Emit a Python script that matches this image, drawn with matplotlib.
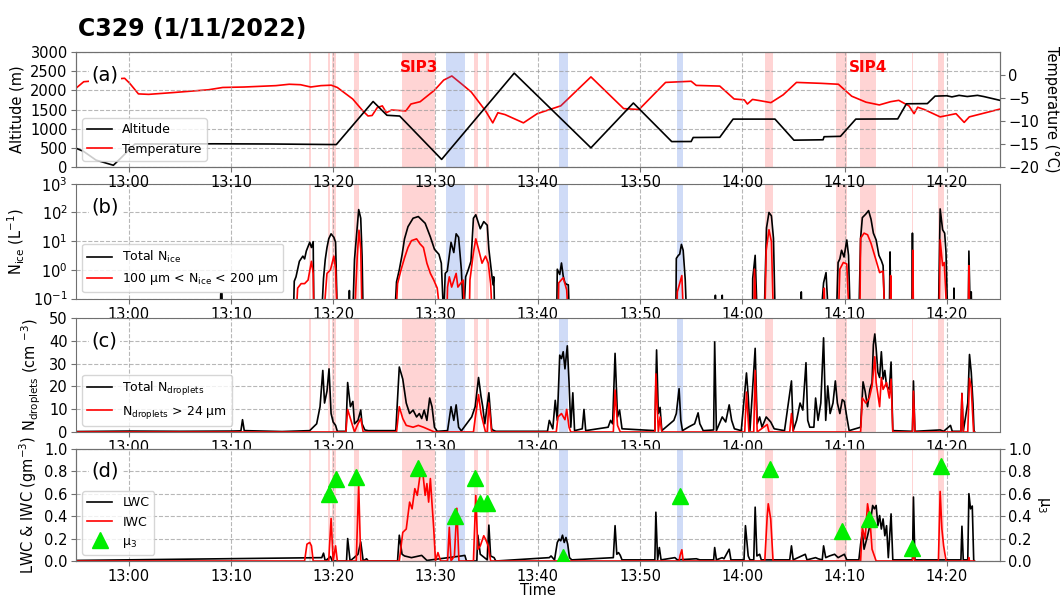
import numpy as np
import matplotlib
matplotlib.use("Agg")
import matplotlib.pyplot as plt
from matplotlib.ticker import NullLocator

# time axis: minutes after 13:00
X_LIM = (-5.15, 85.2)
TICK_MIN = [0, 10, 20, 30, 40, 50, 60, 70, 80]
TICK_LAB = ["13:00", "13:10", "13:20", "13:30", "13:40", "13:50", "14:00", "14:10", "14:20"]

# shaded periods (start, end) in minutes
PINK_SPANS = [(17.6, 17.85), (19.5, 19.65), (19.9, 20.3), (22.05, 22.5), (26.7, 30.0),
              (33.8, 34.2), (34.9, 35.2), (62.2, 63.0), (69.2, 70.2), (71.5, 73.1),
              (76.6, 76.7), (79.15, 79.7)]
BLUE_SPANS = [(31.0, 32.9), (42.1, 43.0), (53.6, 54.2)]
SIP_LABELS = ["SIP3", "SIP4"]
SIP_POS = [28.35, 72.3]

# (a) altitude / temperature
ALT_T = [-5.2, -4.4, -3.2, -1.5, -0.8, 0.6, 8.4, 14.0, 20.3, 23.9, 25.25, 26.5, 30.6, 37.7,
         45.2, 49.35, 53.1, 55.0, 55.2, 57.8, 59.1, 63.2, 65.05, 67.9, 68.0, 69.6, 71.1,
         75.2, 76.05, 78.1, 78.85, 80.0, 80.5, 81.2, 82.0, 83.0, 83.6, 85.2]
ALT_V = [495, 405, 180, 45, 225, 600, 605, 600, 585, 1710, 1350, 1330, 198, 2450,
         500, 1670, 663, 665, 770, 775, 1250, 1250, 700, 710, 790, 800, 1250,
         1255, 1650, 1655, 1850, 1860, 1830, 1870, 1840, 1870, 1840, 1740]
TEMP_T = [-5.2, -4.4, -0.4, 0.1, 0.95, 1.95, 4.4, 7.8, 9.2, 11.3, 14.4, 15.7, 16.8, 17.8,
          18.8, 19.8, 20.4, 21.0, 21.9, 22.9, 23.4, 23.8, 24.3, 24.8, 25.2, 25.7, 27.1,
          27.6, 28.5, 29.9, 30.8, 31.6, 32.7, 33.5, 34.9, 35.6, 36.1, 36.8, 38.6, 39.95,
          42.25, 45.2, 48.4, 49.9, 52.5, 55.0, 55.5, 57.8, 59.2, 60.2, 60.5, 61.0, 61.8,
          62.8, 64.0, 65.3, 67.7, 69.4, 70.7, 72.1, 73.4, 74.5, 75.3, 76.3, 76.8, 77.15,
          77.8, 79.35, 80.9, 81.7, 82.2, 85.2]
TEMP_V = [-2.95, -1.45, -0.7, -1.8, -4.1, -4.2, -3.8, -3.2, -2.7, -2.6, -2.3, -2.0, -2.1, -2.6,
          -2.3, -2.2, -2.7, -3.7, -5.2, -7.8, -8.9, -8.8, -7.1, -6.7, -8.2, -7.6, -7.8,
          -6.3, -5.8, -3.3, -1.1, -0.2, -2.2, -3.7, -7.8, -10.4, -8.2, -8.6, -10.4, -8.4,
          -6.7, -0.4, -7.3, -7.5, -1.6, -1.35, -2.25, -2.4, -5.2, -5.4, -6.3, -5.3, -5.6,
          -6.0, -4.3, -1.6, -1.8, -2.0, -4.6, -5.9, -6.5, -5.8, -5.5, -6.7, -8.4, -7.0,
          -7.5, -9.1, -8.4, -10.3, -9.1, -7.4]

# (b) ice number concentration (L-1); 0.02 = below axis
NICE_T = [-5.2, 8.95, 9.0, 9.12, 9.17,
          16.1, 16.19, 16.36, 16.69, 17.03, 17.2, 17.37, 17.7, 17.87, 18.04, 18.11,
          18.85, 19.05, 19.22, 19.39, 19.56, 19.79, 20.06, 20.23, 20.4,
          21.5, 21.58, 21.66,
          21.9, 22.08, 22.25, 22.49, 22.69, 22.82, 22.93,
          26.0, 26.19, 26.46, 26.73, 26.97, 27.31, 27.81, 28.32, 28.65, 28.99, 29.5, 29.9,
          30.34, 30.57, 30.8, 30.95, 31.15, 31.52, 31.79, 32.02, 32.26, 32.53, 32.75,
          32.95, 33.2, 33.47, 33.71, 33.94, 34.38, 34.72, 35.06, 35.22, 35.49, 35.63, 35.7, 35.8,
          41.85, 41.91, 42.15, 42.32, 42.49, 42.66, 42.83, 42.99, 43.1,
          53.5, 53.55, 53.75, 53.88, 54.05, 54.22, 54.42, 54.56,
          57.3, 57.37, 57.45, 58.0, 58.04, 58.1,
          61.0, 61.02, 61.26, 61.46, 62.14, 62.37, 62.61, 62.85, 63.05, 63.22,
          65.7, 65.77, 65.85, 67.68, 67.95, 68.19, 68.43,
          69.2, 69.37, 69.54, 69.71, 69.95, 70.22, 70.39, 70.56,
          71.4, 71.57, 71.74, 72.08, 72.35, 72.59, 72.82, 73.09, 73.36, 73.6, 73.77, 73.94,
          74.38, 74.45, 74.52, 76.58, 76.64, 76.7,
          79.18, 79.35, 79.59, 79.79, 79.92, 80.09, 80.65, 80.7, 80.75,
          82.1, 82.16, 82.3, 82.39, 82.45, 82.7]
NICE_V = [0.02, 0.02, 0.15, 0.15, 0.02,
          0.02, 0.4, 0.57, 1.98, 3.0, 2.4, 4.55, 9.1, 6.0, 9.6, 0.02,
          0.02, 0.5, 2.3, 6.0, 12, 18, 13.7, 9.1, 0.02,
          0.02, 0.19, 0.02,
          0.02, 2.3, 12, 126, 63, 3.0, 0.02,
          0.02, 0.38, 1.0, 3.3, 12, 32, 63, 72, 55, 42, 14, 5.2,
          3.45, 1.7, 0.02, 0.75, 0.9, 9.0, 4.0, 18, 13.7, 1.0, 0.02,
          0.57, 1.0, 1.98, 63, 83, 27, 48, 36, 5.2, 0.75, 0.3, 0.57, 0.02,
          0.02, 1.05, 0.69, 1.73, 0.6, 0.35, 0.31, 0.3, 0.02,
          0.02, 2.5, 3.2, 3.5, 7.7, 4.8, 0.46, 0.02,
          0.02, 0.13, 0.02, 0.02, 0.13, 0.02,
          0.02, 0.5, 3.2, 0.02, 0.02, 29, 100, 76, 12.6, 0.02,
          0.02, 0.17, 0.02, 0.02, 0.35, 0.8, 0.02,
          0.02, 1.8, 2.4, 4.8, 2.8, 11, 3.2, 0.02,
          0.02, 12.6, 66, 88, 116, 58, 19, 11, 3.2, 2.1, 1.4, 0.02,
          0.02, 4.2, 0.02, 0.02, 19, 0.02,
          0.02, 133, 25, 19, 4.2, 0.02, 0.02, 0.23, 0.02,
          0.02, 4.5, 0.02, 0.17, 0.02, 0.02]
NICE2_T = [-5.2, 16.36, 16.52, 16.86, 17.2, 17.54, 17.87, 18.04, 18.11,
           19.05, 19.39, 19.73, 20.06, 20.23, 20.4,
           22.08, 22.35, 22.52, 22.69, 22.82,
           26.12, 26.29, 26.63, 26.97, 27.31, 27.65, 28.15, 28.49, 28.82, 29.16, 29.5, 29.83,
           30.17, 30.5, 31.1, 31.18, 31.35, 31.58, 32.02, 32.19, 32.7, 32.87,
           33.3, 33.37, 33.71, 33.94, 34.21, 34.55, 34.89, 35.16, 35.39, 35.56,
           42.0, 42.05, 42.49, 42.83, 42.99,
           53.6, 53.65, 54.09, 54.26,
           61.15, 61.19, 61.39, 62.2, 62.34, 62.61, 62.85, 63.05,
           67.95, 68.02, 68.1, 69.4, 69.54, 69.88, 70.22, 70.45,
           71.5, 71.57, 71.91, 72.25, 72.59, 73.09, 73.43, 73.77, 73.94,
           74.45, 74.51, 74.57, 76.62, 76.68, 76.74,
           79.25, 79.35, 79.59, 79.75, 80.02, 82.1, 82.16, 82.22, 82.7]
NICE2_V = [0.02, 0.02, 0.23, 0.33, 0.33, 0.44, 1.98, 0.75, 0.02,
           0.02, 0.75, 1.0, 3.0, 1.1, 0.02,
           0.02, 3.0, 24, 5.2, 0.02,
           0.02, 0.33, 1.0, 2.6, 6.0, 10.4, 12, 8.0, 6.0, 1.7, 0.75, 0.44,
           0.23, 0.02, 0.02, 0.25, 0.57, 0.25, 0.75, 0.25, 0.44, 0.02,
           0.02, 0.44, 4.0, 12, 5.2, 1.7, 3.0, 1.7, 0.33, 0.02,
           0.02, 0.35, 0.53, 0.2, 0.02,
           0.02, 0.17, 0.63, 0.02,
           0.02, 1.05, 0.02, 0.02, 4.8, 25, 9.6, 0.02,
           0.02, 0.23, 0.02, 0.02, 1.05, 1.8, 1.6, 0.02,
           0.02, 12.6, 19, 16.7, 8.4, 2.1, 0.8, 0.9, 0.02,
           0.02, 0.63, 0.02, 0.02, 4.8, 0.02,
           0.02, 11, 1.4, 1.8, 0.02, 0.02, 1.4, 0.02, 0.02]

# (c) droplet number concentration (cm-3)
NDROP_T = [-5.2, 0.0, 5.0, 10.0, 10.97, 11.13, 11.3, 15.0, 17.7, 18.38, 18.71, 18.98, 19.15,
           19.39, 19.59, 19.79, 19.99, 20.23, 20.4, 21.24, 21.41, 21.68, 21.92, 22.08, 22.42,
           22.69, 22.82, 23.09, 23.43, 26.12, 26.46, 26.8, 27.14, 27.47, 27.81, 28.15, 28.42,
           28.65, 28.89, 29.16, 29.43, 29.66, 29.9, 30.17, 31.18, 31.52, 31.79, 32.02, 32.26,
           32.53, 33.54, 33.88, 34.21, 34.45, 34.62, 34.82, 35.22, 35.49, 35.63, 35.9, 40.95,
           41.13, 41.47, 41.71, 41.91, 42.15, 42.32, 42.49, 42.66, 42.89, 43.06, 43.23, 43.43,
           43.6, 44.35, 44.52, 44.69, 46.88, 47.12, 47.32, 47.56, 47.8, 48.0, 48.24,
           51.45, 51.62, 51.79, 51.96, 52.13, 53.31, 53.55, 53.82, 53.99, 54.15, 54.83, 55.34,
           55.68, 55.85, 56.18, 57.2, 57.3, 57.47, 58.04, 58.38, 58.72, 58.96, 59.23, 59.9,
           60.41, 60.58, 60.75, 61.26, 61.46, 61.7, 61.93, 62.34, 62.78, 63.12, 64.13, 64.81,
           64.98, 65.31, 65.65, 65.92, 66.23, 66.4, 66.6, 67.0, 67.17, 67.41, 67.68, 67.95,
           68.16, 68.36, 68.59, 68.87, 69.1, 69.3, 69.54, 69.78, 69.98, 70.22, 70.45, 71.57,
           71.81, 72.01, 72.25, 72.48, 72.69, 72.82, 72.96, 73.09, 73.26, 73.43, 73.6, 73.77,
           73.94, 74.11, 74.38, 74.55, 74.72, 76.64, 76.74, 76.88, 79.35, 79.69, 80.36, 80.53,
           81.38, 81.48, 81.61, 82.05, 82.22, 82.39, 82.56, 82.66, 82.7]
NDROP_V = [0.2, 0.4, 0.3, 0.4, 0.5, 5.4, 0.6, 0.2, 0.6, 3.6, 11.1, 27.0, 12.7,
           17.9, 27.7, 8.1, 4.4, 2.9, 0.3, 0.3, 21.7, 11.1, 13.4, 3.6, 5.1,
           9.6, 3.6, 0.9, 0.6, 0.6, 28.5, 23.2, 12.7, 8.1, 9.6, 6.6, 8.1,
           5.9, 9.6, 5.1, 14.9, 11.1, 2.1, 0.3, 0.6, 11.1, 5.1, 11.9, 2.1,
           0.5, 6.6, 11.1, 23.9, 15.7, 11.1, 3.6, 17.2, 1.4, 0.8, 0.3, 0.3,
           5.1, 1.4, 13.9, 5.1, 33.7, 32.2, 35.2, 27.7, 37.8, 21.7, 2.1, 17.2,
           0.6, 1.4, 9.9, 0.6, 2.1, 5.1, 3.6, 34.5, 6.6, 9.6, 1.4,
           0.6, 36.0, 8.1, 10.8, 0.6, 5.1, 8.1, 19.0, 5.1, 0.6, 2.4, 3.6,
           8.4, 3.6, 0.6, 0.9, 39.5, 0.6, 6.6, 4.4, 11.9, 5.1, 1.4, 0.6,
           25.9, 15.7, 0.6, 36.7, 3.6, 6.6, 2.1, 6.6, 4.4, 1.4, 0.6, 22.4,
           0.6, 5.1, 12.7, 9.6, 30.4, 5.1, 2.1, 2.1, 14.9, 5.1, 12.7, 41.3,
           5.1, 20.2, 8.1, 12.7, 22.4, 12.7, 8.1, 14.2, 13.4, 6.6, 0.6, 2.1,
           22.0, 17.9, 11.1, 18.7, 21.7, 38.3, 43.0, 36.7, 26.2, 23.9, 35.2, 23.2,
           27.0, 20.2, 18.7, 30.7, 0.6, 0.3, 22.4, 0.3, 0.9, 0.3, 2.9, 0.3,
           0.3, 16.9, 0.3, 12.7, 34.0, 26.2, 12.7, 0.3, 0.2]
NDROP24_T = [-5.2, 21.24, 21.41, 21.68, 22.08, 22.42, 22.69, 22.93,
             26.19, 26.46, 26.8, 27.14, 27.81, 28.32, 28.82, 29.9,
             33.71, 33.88, 34.21, 34.45, 34.89, 35.06, 35.22, 35.49,
             41.81, 41.98, 42.32, 42.66, 42.83, 43.06, 43.23,
             47.39, 47.56, 47.8, 48.07, 51.45, 51.55, 51.79, 51.96, 52.13,
             60.24, 60.41, 60.65, 61.12, 61.26, 61.46, 62.44, 62.61,
             64.64, 64.81, 64.98,
             71.57, 71.74, 72.08, 72.42, 72.69, 72.96, 73.09, 73.43, 73.6, 73.77, 74.11,
             74.38, 74.55, 74.72, 76.64, 76.74, 76.88,
             81.38, 81.48, 81.61, 82.05, 82.22, 82.39, 82.62, 82.7]
NDROP24_V = [0, 0, 9.9, 5.9, 0, 3.6, 5.9, 0,
             0, 11.1, 5.9, 2.9, 2.1, 2.9, 2.1, 0,
             0, 5.9, 16.4, 8.1, 0, 0, 12.7, 0,
             0, 6.6, 8.1, 5.4, 9.9, 2.1, 0,
             0, 18.4, 2.9, 0, 0, 25.5, 0, 6.6, 0,
             0, 17.5, 0, 0, 27.0, 0, 3.3, 0,
             0, 8.1, 0,
             0, 14.9, 12.7, 14.9, 20.2, 33.0, 21.7, 11.1, 23.9, 18.7, 21.7,
             14.9, 23.2, 0, 0, 17.9, 0,
             0, 16.9, 0, 0, 23.5, 19.4, 0, 0]

# (d) LWC, IWC (g m-3) and mu3
LWC_T = [-5.2, 18.88, 19.05, 19.22, 19.73, 19.9, 21.3, 21.41, 21.65, 22.42, 22.69, 22.93,
         23.26, 23.43, 26.29, 26.46, 26.73, 26.97, 27.65, 28.65, 29.16, 32.53, 32.87, 33.03,
         34.04, 34.14, 34.38, 35.06, 35.22, 35.39, 35.73, 35.9,
         41.13, 41.3, 41.64, 41.91, 42.08, 42.25, 42.42, 42.59, 42.76, 42.93, 43.1, 43.33,
         47.39, 47.56, 47.73, 47.9, 48.07, 48.24, 51.45, 51.55, 51.72, 51.89, 52.06,
         53.41, 53.65, 55.51, 55.85, 57.2, 57.3, 57.47, 58.04, 58.21, 58.72, 58.89,
         60.17, 60.31, 60.58, 60.75, 61.12, 61.26, 61.43, 61.7, 61.86,
         64.64, 64.81, 64.98, 66.16, 66.33, 67.17, 67.41, 67.82, 67.95, 68.16, 68.53, 69.03,
         69.37, 69.98, 70.22, 71.4, 71.57, 71.74, 71.91, 72.25, 72.48, 72.75, 72.92, 73.09,
         73.26, 73.43, 73.6, 73.77, 73.94, 74.11, 74.28, 74.55, 74.72,
         76.64, 76.74, 76.88, 81.38, 81.48, 81.61, 82.05, 82.16, 82.32, 82.49, 82.63, 82.7]
LWC_V = [0.005, 0.03, 0.07, 0.0, 0.04, 0.0, 0.0, 0.2, 0.0, 0.06, 0.17, 0.0,
         0.02, 0.0, 0.0, 0.23, 0.06, 0.045, 0.03, 0.05, 0.005, 0.045, 0.05, 0.0,
         0.0, 0.23, 0.06, 0.01, 0.32, 0.045, 0.03, 0.0,
         0.03, 0.045, 0.01, 0.165, 0.195, 0.18, 0.23, 0.165, 0.21, 0.15, 0.03, 0.01,
         0.03, 0.315, 0.06, 0.075, 0.05, 0.01, 0.01, 0.435, 0.01, 0.12, 0.01,
         0.03, 0.01, 0.02, 0.01, 0.01, 0.12, 0.01, 0.03, 0.02, 0.105, 0.01,
         0.01, 0.315, 0.045, 0.01, 0.01, 0.48, 0.045, 0.06, 0.01,
         0.01, 0.135, 0.01, 0.06, 0.01, 0.03, 0.02, 0.01, 0.135, 0.03, 0.045, 0.06,
         0.03, 0.06, 0.01, 0.01, 0.15, 0.255, 0.105, 0.225, 0.315, 0.495, 0.465, 0.495,
         0.315, 0.405, 0.285, 0.375, 0.225, 0.315, 0.03, 0.42, 0.01,
         0.01, 0.57, 0.01, 0.01, 0.31, 0.01, 0.01, 0.6, 0.465, 0.49, 0.01, 0.0]
IWC_T = [-5.2, 17.2, 17.43, 17.7, 17.87, 18.04, 19.56, 19.79, 19.99, 20.23, 20.4,
         22.25, 22.49, 22.69, 26.46, 26.8, 27.14, 27.47, 27.71, 27.98, 28.22, 28.49, 28.75,
         28.99, 29.16, 29.33, 29.5, 29.66, 29.83, 30.0, 30.24, 30.5,
         31.18, 31.35, 31.52, 31.85, 32.09, 32.29,
         33.71, 33.94, 34.14, 34.38, 34.72, 34.89, 35.16, 35.39,
         53.82, 53.92, 54.09, 54.22, 62.2, 62.44, 62.54, 62.78, 63.01,
         71.57, 71.74, 72.01, 72.25, 72.48, 72.69, 73.09,
         76.64, 76.74, 76.88, 79.18, 79.35, 79.52, 79.69, 79.93,
         82.1, 82.16, 82.22, 82.7]
IWC_V = [0.0, 0.0, 0.15, 0.165, 0.135, 0.0, 0.0, 0.38, 0.0, 0.135, 0.0,
         0.0, 0.68, 0.0, 0.0, 0.255, 0.285, 0.525, 0.465, 0.645, 0.585, 0.765, 0.795,
         0.585, 0.69, 0.525, 0.735, 0.51, 0.285, 0.0, 0.075, 0.0,
         0.0, 0.3, 0.0, 0.045, 0.47, 0.0,
         0.0, 0.585, 0.105, 0.135, 0.225, 0.195, 0.135, 0.0,
         0.0, 0.05, 0.1, 0.0, 0.0, 0.405, 0.51, 0.375, 0.0,
         0.0, 0.3, 0.195, 0.51, 0.375, 0.105, 0.0,
         0.0, 0.075, 0.0, 0.0, 0.62, 0.285, 0.135, 0.0,
         0.0, 0.03, 0.0, 0.0]
MU3_T = [19.56, 20.24, 22.26, 28.3, 31.95, 33.87, 34.4, 35.05,
         42.49, 53.9, 62.68, 69.78, 72.35, 76.64, 79.4]
MU3_V = [0.60, 0.73, 0.75, 0.83, 0.40, 0.74, 0.52, 0.52,
         0.04, 0.58, 0.82, 0.27, 0.37, 0.12, 0.85]

PINK = (1.0, 0.0, 0.0, 0.17)
BLUE = (0.25, 0.45, 0.88, 0.25)
FRAME = "#707070"
TICK_FS = 10.5
LAB_FS = 10.5

fig = plt.figure(figsize=(10.62, 6.0), dpi=100)
L, W = 0.0716, 0.870
ax_a = fig.add_axes([L, 0.7217, W, 0.1915])
ax_b = fig.add_axes([L, 0.5025, W, 0.1912])
ax_c = fig.add_axes([L, 0.2800, W, 0.1900])
ax_d = fig.add_axes([L, 0.0650, W, 0.1870])


def style(ax, label):
    for s0, s1 in PINK_SPANS:
        ax.axvspan(s0, s1, color=PINK, lw=0, zorder=0)
    for s0, s1 in BLUE_SPANS:
        ax.axvspan(s0, s1, color=BLUE, lw=0, zorder=0)
    ax.set_xlim(*X_LIM)
    ax.set_xticks(TICK_MIN)
    ax.set_xticklabels(TICK_LAB)
    ax.tick_params(labelsize=TICK_FS, color=FRAME, pad=2.5)
    ax.grid(True, color="#999999", ls="--", lw=0.8, alpha=0.7)
    ax.set_axisbelow(True)
    for sp in ax.spines.values():
        sp.set_color(FRAME)
    ax.text(0.017, 0.8, label, transform=ax.transAxes, fontsize=14, va="center",
            zorder=6, bbox=dict(facecolor="white", edgecolor="none", pad=2))


def style_twin(ax):
    ax.tick_params(labelsize=TICK_FS, color=FRAME, pad=2.5)
    for sp in ax.spines.values():
        sp.set_color(FRAME)


# (a)
style(ax_a, "(a)")
l_alt, = ax_a.plot(ALT_T, ALT_V, color="black", lw=1.2, label="Altitude")
ax_a.set_ylim(0, 3000)
ax_a.set_yticks(range(0, 3001, 500))
ax_a.set_ylabel("Altitude (m)", fontsize=LAB_FS)
ax_at = ax_a.twinx()
l_tmp, = ax_at.plot(TEMP_T, TEMP_V, color="red", lw=1.2, label="Temperature")
ax_at.set_ylim(-20, 5)
ax_at.set_yticks([0, -5, -10, -15, -20])
style_twin(ax_at)
ax_at.set_ylabel("Temperature (°C)", fontsize=LAB_FS, rotation=270, labelpad=14)
for lab, pos in zip(SIP_LABELS, SIP_POS):
    ax_a.text(pos, 2600, lab, color="red", fontsize=11, fontweight="bold",
              ha="center", va="center", zorder=5)
ax_a.legend(handles=[l_alt, l_tmp], loc="lower left", fontsize=9)
ax_a.set_zorder(ax_at.get_zorder() + 1)
ax_a.patch.set_visible(False)

# (b)
style(ax_b, "(b)")
ax_b.plot(NICE_T, NICE_V, color="black", lw=1.2, label="Total N$_{\\mathrm{ice}}$")
ax_b.plot(NICE2_T, NICE2_V, color="red", lw=1.2,
          label="100 μm < N$_{\\mathrm{ice}}$ < 200 μm")
ax_b.set_yscale("log")
ax_b.set_ylim(0.1, 1000)
ax_b.yaxis.set_minor_locator(NullLocator())
ax_b.set_ylabel("N$_{\\mathrm{ice}}$ (L$^{-1}$)", fontsize=LAB_FS)
ax_b.legend(loc="lower left", fontsize=9)

# (c)
style(ax_c, "(c)")
ax_c.plot(NDROP_T, NDROP_V, color="black", lw=1.2, label="Total N$_{\\mathrm{droplets}}$")
ax_c.plot(NDROP24_T, NDROP24_V, color="red", lw=1.2, label="N$_{\\mathrm{droplets}}$ > 24 μm")
ax_c.set_ylim(0, 50)
ax_c.set_yticks(range(0, 51, 10))
ax_c.set_ylabel("N$_{\\mathrm{droplets}}$ (cm $^{-3}$)", fontsize=LAB_FS)
ax_c.legend(loc="lower left", fontsize=9)

# (d)
style(ax_d, "(d)")
l_lwc, = ax_d.plot(LWC_T, LWC_V, color="black", lw=1.2, label="LWC")
l_iwc, = ax_d.plot(IWC_T, IWC_V, color="red", lw=1.2, label="IWC")
ax_d.set_ylim(0, 1)
ax_d.set_yticks(np.arange(0, 1.01, 0.2))
ax_d.set_ylabel("LWC & IWC (gm$^{-3}$)", fontsize=LAB_FS)
ax_d.set_xlabel("Time", fontsize=LAB_FS, labelpad=-1)
ax_dt = ax_d.twinx()
m_mu, = ax_dt.plot(MU3_T, MU3_V, ls="none", marker="^", ms=11, color="#00ee00",
                   label="μ$_3$", zorder=5)
ax_dt.set_ylim(0, 1)
ax_dt.set_yticks(np.arange(0, 1.01, 0.2))
style_twin(ax_dt)
ax_dt.set_ylabel("μ$_3$", fontsize=LAB_FS, rotation=270, labelpad=14)
ax_dt.legend(handles=[l_lwc, l_iwc, m_mu], loc="lower left", fontsize=9)

fig.text(0.073, 0.94, "C329 (1/11/2022)", fontsize=17, fontweight="bold", va="baseline")

fig.savefig("out.png", dpi=100)
